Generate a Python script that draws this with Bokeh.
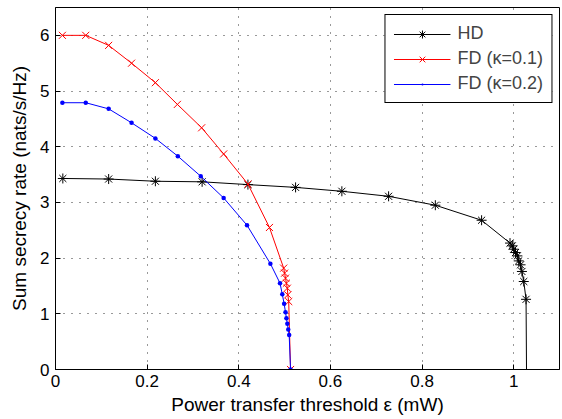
from bokeh.plotting import figure
from bokeh.models import Range1d, FixedTicker
from bokeh.embed import file_html
from bokeh.resources import INLINE

# ---- data ----
hd_x = [0.016, 0.116, 0.218, 0.320, 0.420, 0.524, 0.625, 0.727, 0.829, 0.930,
        0.992, 0.997, 1.000, 1.004, 1.008, 1.011, 1.015, 1.018, 1.022, 1.027]
hd_y = [3.43, 3.42, 3.38, 3.37, 3.32, 3.27, 3.20, 3.11, 2.95, 2.68,
        2.27, 2.22, 2.16, 2.10, 2.04, 1.95, 1.88, 1.76, 1.58, 1.26]
hd_end_x = [1.028]
hd_end_y = [0.0]

fd1_x = [0.015, 0.066, 0.116, 0.166, 0.218, 0.266, 0.319, 0.367, 0.420, 0.467,
         0.498, 0.500, 0.502, 0.504, 0.506, 0.507, 0.509, 0.513]
fd1_y = [6.00, 6.00, 5.82, 5.50, 5.15, 4.76, 4.34, 3.87, 3.33, 2.55,
         1.82, 1.73, 1.64, 1.55, 1.46, 1.34, 1.22, 0.0]

fd2_x = [0.015, 0.066, 0.116, 0.166, 0.218, 0.267, 0.317, 0.367, 0.418, 0.469,
         0.490, 0.495, 0.499, 0.502, 0.504, 0.506, 0.508, 0.510, 0.513]
fd2_y = [4.79, 4.79, 4.68, 4.43, 4.15, 3.83, 3.47, 3.08, 2.59, 1.90,
         1.55, 1.35, 1.18, 1.03, 0.92, 0.82, 0.72, 0.62, 0.0]

x_ticks = [0, 0.2, 0.4, 0.6, 0.8, 1.0]
x_tick_labels = ["0", "0.2", "0.4", "0.6", "0.8", "1"]
y_ticks = [0, 1, 2, 3, 4, 5, 6]
y_tick_labels = ["0", "1", "2", "3", "4", "5", "6"]

labels = ["HD", "FD (\u03ba=0.1)", "FD (\u03ba=0.2)"]
x_label = "Power transfer threshold \u03b5 (mW)"
y_label = "Sum secrecy rate (nats/s/Hz)"

FONT = "Liberation Sans"

p = figure(width=562, height=419, output_backend="svg", toolbar_location=None,
           x_range=Range1d(0, 1.1), y_range=Range1d(0, 6.5),
           min_border_left=55, min_border_right=3, min_border_top=7,
           min_border_bottom=50)
p.background_fill_color = "white"
p.border_fill_color = "white"
p.outline_line_color = "black"
p.outline_line_width = 1
p.outline_line_alpha = 1

for ax in (p.xaxis[0], p.yaxis[0]):
    ax.major_tick_in = 5
    ax.major_tick_out = 0
    ax.minor_tick_line_color = None
    ax.axis_line_color = "black"
    ax.major_tick_line_color = "black"
    ax.major_label_text_font = FONT
    ax.major_label_text_font_size = "17px"
    ax.major_label_text_color = "black"
    ax.axis_label_text_font = FONT
    ax.axis_label_text_font_size = "19px"
    ax.axis_label_text_font_style = "normal"
    ax.axis_label_text_color = "black"

p.xaxis[0].ticker = FixedTicker(ticks=x_ticks)
p.xaxis[0].major_label_overrides = dict(zip(x_ticks, x_tick_labels))
p.xaxis[0].axis_label = x_label
p.xaxis[0].major_label_standoff = 5
p.xaxis[0].axis_label_standoff = 4

p.yaxis[0].ticker = FixedTicker(ticks=y_ticks)
p.yaxis[0].major_label_overrides = dict(zip(y_ticks, y_tick_labels))
p.yaxis[0].axis_label = y_label
p.yaxis[0].major_label_standoff = 6
p.yaxis[0].axis_label_standoff = 7

p.xgrid.ticker = FixedTicker(ticks=x_ticks)
p.ygrid.ticker = FixedTicker(ticks=y_ticks)
for g in (p.xgrid[0], p.ygrid[0]):
    g.grid_line_color = "black"
    g.grid_line_dash = "1 7"
    g.grid_line_alpha = 0.8
    g.grid_line_width = 1

# HD
p.line(hd_x + hd_end_x, hd_y + hd_end_y, color="black", line_width=1, legend_label=labels[0])
p.scatter(hd_x, hd_y, marker="asterisk", size=10, line_color="black", line_width=1,
          legend_label=labels[0])
# FD k=0.1
p.line(fd1_x, fd1_y, color="red", line_width=1, legend_label=labels[1])
p.scatter(fd1_x, fd1_y, marker="x", size=10, line_color="red", line_width=1,
          legend_label=labels[1])
# FD k=0.2
p.line(fd2_x, fd2_y, color="blue", line_width=1, legend_label=labels[2])
p.scatter(fd2_x, fd2_y, marker="dot", size=18, line_color="blue", fill_color="blue",
          legend_label=labels[2])

lg = p.legend[0]
lg.location = "top_right"
lg.margin = 7
lg.border_line_color = "black"
lg.border_line_width = 1
lg.border_line_alpha = 1
lg.background_fill_color = "white"
lg.background_fill_alpha = 1
lg.label_text_font = FONT
lg.label_text_font_size = "18px"
lg.glyph_width = 57
lg.glyph_height = 20
lg.spacing = 4
lg.padding = 8
lg.label_standoff = 7
lg.label_height = 20

open("out.html", "w").write(file_html(p, INLINE))
